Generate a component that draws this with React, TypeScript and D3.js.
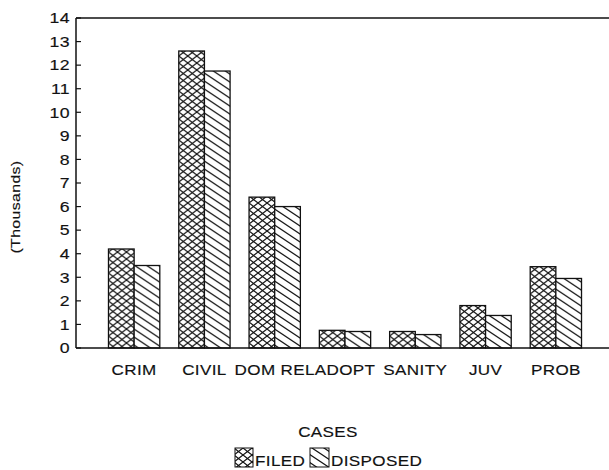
import React from 'react';
import * as d3 from 'd3';

const width = 609;
const height = 470;
const margin = { top: 18, right: 0, bottom: 122, left: 76 };

const categories = ['CRIM', 'CIVIL', 'DOM REL', 'ADOPT', 'SANITY', 'JUV', 'PROB'];
const filed = [4.2, 12.6, 6.4, 0.75, 0.7, 1.8, 3.45];
const disposed = [3.5, 11.75, 6.0, 0.7, 0.57, 1.38, 2.95];
const seriesNames = ['FILED', 'DISPOSED'];
const yTicks = d3.range(0, 15);

const font = '"Liberation Sans", Arial, Helvetica, sans-serif';

// the scanned font is wide and a bit heavy, so stretch it sideways
const Label = ({ x, y, anchor = 'start', rotate = 0, size = 14, dy = '0', children }) => (
  <text
    transform={`translate(${x},${y}) rotate(${rotate}) scale(1.22,1)`}
    textAnchor={anchor}
    dy={dy}
    fontSize={size}
    letterSpacing={0.3}
    fill="#111"
    stroke="#111"
    strokeWidth={0.15}
  >
    {children}
  </text>
);

const App = () => {
  const y = d3
    .scaleLinear()
    .domain([0, 14])
    .range([height - margin.bottom, margin.top]);

  const x0 = d3
    .scaleBand()
    .domain(categories)
    .range([99, 591])
    .paddingInner(0.27)
    .paddingOuter(0.135);

  const x1 = d3.scaleBand().domain(seriesNames).range([0, x0.bandwidth()]);

  const fills = ['url(#cross)', 'url(#diag)'];
  const values = [filed, disposed];
  const baseY = y(0);

  return (
    <svg
      width={width}
      height={height}
      style={{ position: 'absolute', left: 0, top: 0, background: '#fff' }}
      fontFamily={font}
    >
      <defs>
        <pattern id="cross" patternUnits="userSpaceOnUse" width={9} height={7}>
          <rect width={9} height={7} fill="#fff" />
          <path d="M0,0 L9,7 M9,0 L0,7" stroke="#111" strokeWidth={1.2} />
        </pattern>
        <pattern id="diag" patternUnits="userSpaceOnUse" width={12} height={8}>
          <rect width={12} height={8} fill="#fff" />
          <path d="M0,0 L12,8 M-6,4 L6,12 M6,-4 L18,4" stroke="#111" strokeWidth={1.2} />
        </pattern>
      </defs>

      {/* bars */}
      {categories.map((c, i) => (
        <g key={c} transform={`translate(${x0(c)},0)`}>
          {seriesNames.map((s, j) => (
            <rect
              key={s}
              x={x1(s)}
              y={y(values[j][i])}
              width={x1.bandwidth()}
              height={baseY - y(values[j][i])}
              fill={fills[j]}
              stroke="#111"
              strokeWidth={1.3}
            />
          ))}
        </g>
      ))}

      {/* frame: top, left, bottom */}
      <line x1={margin.left} x2={width} y1={margin.top} y2={margin.top} stroke="#111" strokeWidth={1.5} />
      <line x1={margin.left} x2={width} y1={baseY} y2={baseY} stroke="#111" strokeWidth={1.5} />
      <line x1={margin.left} x2={margin.left} y1={margin.top} y2={baseY} stroke="#111" strokeWidth={1.5} />

      {/* y ticks */}
      {yTicks.map(t => (
        <g key={t}>
          <line x1={margin.left} x2={margin.left + 5} y1={y(t)} y2={y(t)} stroke="#111" strokeWidth={1.2} />
          <Label x={70} y={y(t)} dy="0.36em" anchor="end" size={14.5}>
            {t}
          </Label>
        </g>
      ))}

      <Label x={20} y={207} rotate={-90} anchor="middle" size={13}>
        (Thousands)
      </Label>

      {/* category labels */}
      {categories.map(c => (
        <Label key={c} x={x0(c) + x0.bandwidth() / 2} y={baseY + 27} anchor="middle">
          {c}
        </Label>
      ))}

      {/* legend */}
      <Label x={328} y={437} anchor="middle">
        CASES
      </Label>
      <rect x={235} y={448} width={18} height={19} fill={fills[0]} stroke="#111" strokeWidth={1} />
      <Label x={255} y={466}>
        {seriesNames[0]}
      </Label>
      <rect x={310} y={448} width={19} height={19} fill={fills[1]} stroke="#111" strokeWidth={1} />
      <Label x={331} y={466}>
        {seriesNames[1]}
      </Label>
    </svg>
  );
};

export default App;
